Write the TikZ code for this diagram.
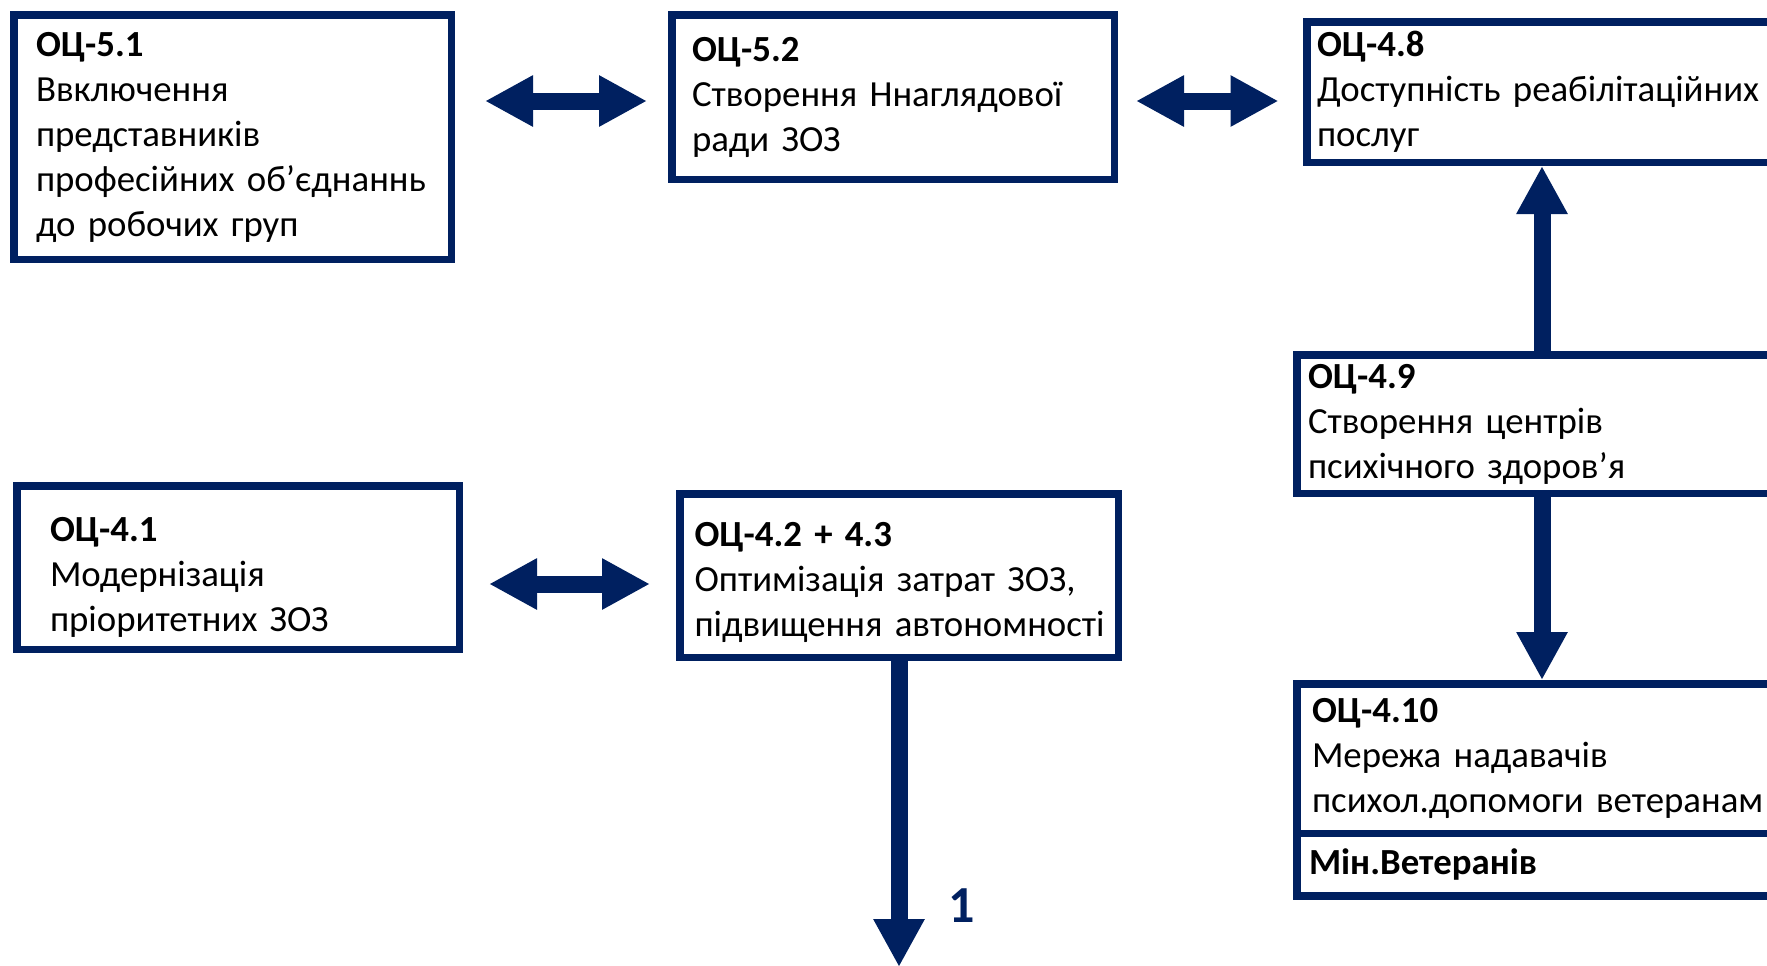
\documentclass[tikz,border=0pt]{standalone}
\usepackage{fontspec}
\setmainfont{Carlito}
\usetikzlibrary{arrows.meta, positioning}

\definecolor{navy}{RGB}{0,32,96}

\begin{document}
\begin{tikzpicture}[
    goal/.style={draw=navy, line width=3.75pt, align=left, inner ysep=4pt,
        font=\fontsize{18.4}{22.5}\selectfont},
    dblarrow/.style={draw=navy, line width=8.5pt,
        {Triangle[length=24pt,width=24pt]}-{Triangle[length=24pt,width=24pt]}},
    onearrow/.style={draw=navy, line width=8.5pt,
        -{Triangle[length=24pt,width=24pt]}}
]

\useasboundingbox (0,0) rectangle (883.5pt,-482.5pt);

\node[goal, text width=196.5pt, inner xsep=11.125pt, minimum height=122.25pt,
    anchor=north west] (b51) at (5pt,-5.5pt)
    {\textbf{ОЦ-5.1}\\Ввключення\\представників\\професійних~об’єднаннь\\до робочих груп};
\node[goal, text width=201pt, inner xsep=10.125pt, minimum height=82.25pt,
    right=106.5pt of b51.north east, anchor=north west] (b52)
    {\textbf{ОЦ-5.2}\\Створення~Ннаглядової\\ради ЗОЗ};
\node[goal, text width=225pt, inner xsep=5.125pt, minimum height=70.25pt,
    right=92.5pt of b52.north east, anchor=north west, yshift=-3.5pt] (b48)
    {\textbf{ОЦ-4.8}\\Доступність~реабілітаційних\\послуг};
\node[goal, text width=234pt, inner xsep=5.625pt, minimum height=69.25pt,
    below=92.5pt of b48] (b49)
    {\textbf{ОЦ-4.9}\\Створення центрів\\психічного здоров’я};
\node[goal, text width=230pt, inner xsep=7.625pt, minimum height=74.75pt,
    below=91.5pt of b49] (b410)
    {\textbf{ОЦ-4.10}\\Мережа надавачів\\психол.допомоги~ветеранам};
\node[goal, text width=233pt, inner xsep=6.125pt, minimum height=31.25pt,
    inner ysep=2pt, below=-3.75pt of b410] (b410m)
    {\textbf{Мін.Ветеранів}};

\node[goal, text width=188pt, inner xsep=16.625pt, minimum height=81.75pt,
    anchor=north west] (b41) at (6.5pt,-241pt)
    {\textbf{\rule{0pt}{22pt}ОЦ-4.1}\\Модернізація\\пріоритетних ЗОЗ};
\node[goal, text width=204.5pt, inner xsep=7.375pt, minimum height=81.75pt,
    right=106.5pt of b41.north east, anchor=north west, yshift=-4pt] (b423)
    {\textbf{\rule{0pt}{19pt}ОЦ-4.2 + 4.3}\\Оптимізація затрат ЗОЗ,\\підвищення~автономності};

\coordinate[below=153pt of b423.south] (out1);

\draw[dblarrow, shorten <=15pt, shorten >=10.5pt]
    ([yshift=-2pt]b52.west -| b51.east) -- ([yshift=-2pt]b52.west);
\draw[dblarrow, shorten <=9pt, shorten >=12.25pt]
    ([yshift=-2pt]b52.east) -- ([yshift=-2pt]b52.east -| b48.west);
\draw[dblarrow, shorten <=13pt, shorten >=13pt]
    ([yshift=-4.25pt]b423.west -| b41.east) -- ([yshift=-4.25pt]b423.west);

\draw[onearrow] (b49) -- (b48);
\draw[onearrow] (b49) -- (b410);
\draw[onearrow] (b423) -- (out1)
    node[pos=0.8, right=20.5pt, inner sep=0pt, text=navy,
        font=\fontsize{26}{30}\selectfont\bfseries] (lab1) {1};

\end{tikzpicture}
\end{document}
